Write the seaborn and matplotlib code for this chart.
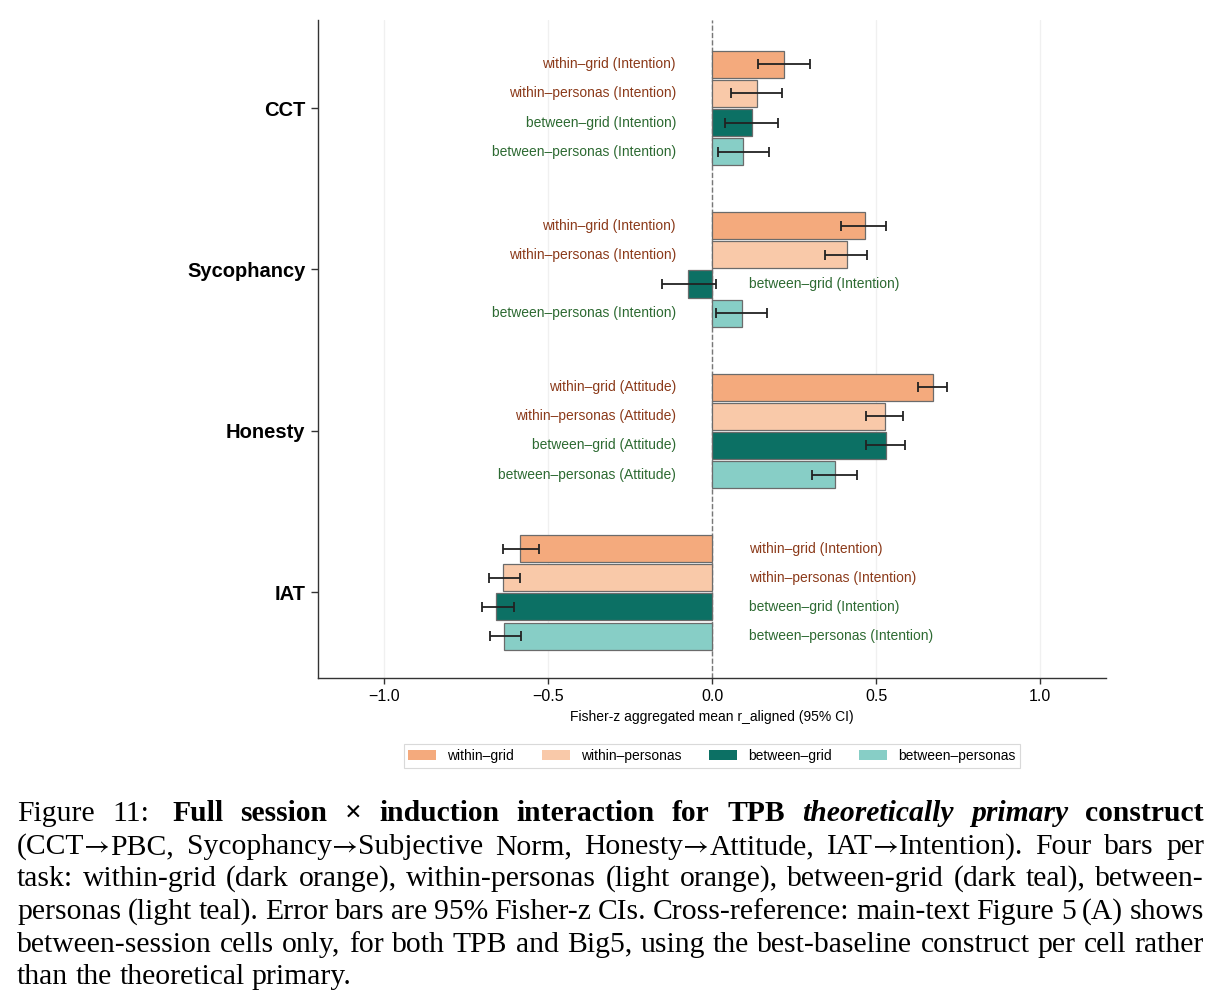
import numpy as np
import pandas as pd
import matplotlib
matplotlib.use("Agg")
import matplotlib.pyplot as plt
import matplotlib.transforms as mtransforms
from matplotlib.patches import Patch
import seaborn as sns

# ---------------- data ----------------
tasks = ["CCT", "Sycophancy", "Honesty", "IAT"]
conditions = ["within–grid", "within–personas", "between–grid", "between–personas"]
constructs = ["Intention", "Intention", "Attitude", "Intention"]

# mean r_aligned per task (order of `tasks`) for each condition
mean_within_grid = [0.219, 0.467, 0.672, -0.586]
mean_within_personas = [0.137, 0.411, 0.528, -0.636]
mean_between_grid = [0.121, -0.072, 0.531, -0.657]
mean_between_personas = [0.095, 0.090, 0.376, -0.632]

lo_within_grid = [0.140, 0.394, 0.626, -0.636]
lo_within_personas = [0.058, 0.344, 0.468, -0.680]
lo_between_grid = [0.040, -0.153, 0.468, -0.700]
lo_between_personas = [0.018, 0.012, 0.306, -0.675]

hi_within_grid = [0.298, 0.531, 0.717, -0.528]
hi_within_personas = [0.212, 0.473, 0.582, -0.586]
hi_between_grid = [0.200, 0.011, 0.588, -0.604]
hi_between_personas = [0.173, 0.166, 0.442, -0.581]

xticks = [-1.0, -0.5, 0.0, 0.5, 1.0]
xlabel = "Fisher-z aggregated mean r_aligned (95% CI)"

means = [mean_within_grid, mean_within_personas, mean_between_grid, mean_between_personas]
los = [lo_within_grid, lo_within_personas, lo_between_grid, lo_between_personas]
his = [hi_within_grid, hi_within_personas, hi_between_grid, hi_between_personas]

rows = []
for ti, t in enumerate(tasks):
    for ci, c in enumerate(conditions):
        rows.append({"task": t, "condition": c, "value": means[ci][ti],
                     "lo": los[ci][ti], "hi": his[ci][ti], "ti": ti, "ci": ci,
                     "construct": constructs[ti]})
df = pd.DataFrame(rows)

# ---------------- style ----------------
palette = ["#F4AA7D", "#F9C9A9", "#0C7064", "#87CEC6"]
text_colors = ["#8B3A1A", "#8B3A1A", "#2D6A32", "#2D6A32"]

sns.set_style("white")
plt.rcParams["font.family"] = ["Liberation Sans", "DejaVu Sans"]
plt.rcParams["text.color"] = "black"
plt.rcParams["axes.labelcolor"] = "black"
plt.rcParams["xtick.color"] = "black"
plt.rcParams["ytick.color"] = "black"

fig = plt.figure(figsize=(12.24, 10.07), dpi=100)
ax = fig.add_axes([318 / 1224, 1 - 678 / 1007, (1106 - 318) / 1224, (678 - 20) / 1007])

width = 0.72
sns.barplot(data=df, y="task", x="value", hue="condition", order=tasks,
            hue_order=conditions, orient="h", palette=palette, width=width,
            gap=0.07, saturation=1, edgecolor="#6b6b6b", linewidth=0.9,
            legend=False, errorbar=None, ax=ax, zorder=3)

step = width / len(conditions)
ypos = df["ti"].to_numpy() + (df["ci"].to_numpy() - 1.5) * step
vals = df["value"].to_numpy()
ax.errorbar(vals, ypos,
            xerr=[vals - df["lo"].to_numpy(), df["hi"].to_numpy() - vals],
            fmt="none", ecolor="#222222", elinewidth=1.3, capsize=3.5,
            capthick=1.3, zorder=4)

for (_, r), y in zip(df.iterrows(), ypos):
    label = f"{r['condition']} ({r['construct']})"
    if r["value"] >= 0:
        ax.text(-0.11, y, label, ha="right", va="center", fontsize=10,
                color=text_colors[r["ci"]])
    else:
        ax.text(0.112, y, label, ha="left", va="center", fontsize=10,
                color=text_colors[r["ci"]])

ax.axvline(0, color="#777777", linestyle="--", linewidth=1.0, zorder=2)
ax.set_xlim(-1.2, 1.2)
ax.set_ylim(3.53, -0.545)
ax.set_xticks(xticks)
ax.set_xticklabels(["\u22121.0", "\u22120.5", "0.0", "0.5", "1.0"])
ax.xaxis.grid(True, color="#f0f0f0", linewidth=1.0, zorder=0)
ax.yaxis.grid(False)
ax.set_axisbelow(True)
ax.set_ylabel("")
ax.set_xlabel(xlabel, fontsize=10, labelpad=4)
ax.tick_params(axis="x", labelsize=11.5, length=4, width=1, color="#333333",
               labelcolor="black", bottom=True, pad=4)
ax.tick_params(axis="y", length=5, width=1, color="#333333", labelcolor="black",
               left=True, pad=4)
for lab in ax.get_yticklabels():
    lab.set_fontsize(14.5)
    lab.set_fontweight("bold")
for s in ["top", "right"]:
    ax.spines[s].set_visible(False)
for s in ["left", "bottom"]:
    ax.spines[s].set_color("#333333")
    ax.spines[s].set_linewidth(1.0)

handles = [Patch(facecolor=p, edgecolor="none") for p in palette]
leg = fig.legend(handles, conditions, loc="center", ncol=4,
                 bbox_to_anchor=(712 / 1224, 1 - 756 / 1007), fontsize=10,
                 frameon=True, handlelength=2.0, handleheight=0.7,
                 handletextpad=0.8, columnspacing=2.0, borderpad=0.35,
                 fancybox=False)
leg.get_frame().set_edgecolor("#d0d0d0")
leg.get_frame().set_linewidth(0.8)
for t in leg.get_texts():
    t.set_color("black")

# ---------------- caption ----------------
SERIF = ["Liberation Serif", "DejaVu Serif"]
ARROWFONT = ["STIXGeneral", "DejaVu Serif"]
FS = 21.3
R, B, BI = ("normal", "normal"), ("bold", "normal"), ("bold", "italic")
ident = mtransforms.IdentityTransform()

caption_lines = [
    [("Figure", R), ("11:", R), ("Full", B), ("session", B), ("\u00d7", B),
     ("induction", B), ("interaction", B), ("for", B), ("TPB", B),
     ("theoretically", BI), ("primary", BI), ("construct", B)],
    [(w, R) for w in "(CCT\u2192PBC, Sycophancy\u2192Subjective Norm, Honesty\u2192Attitude, IAT\u2192Intention). Four bars per".split(" ")],
    [(w, R) for w in "task: within-grid (dark orange), within-personas (light orange), between-grid (dark teal), between-".split(" ")],
    [(w, R) for w in "personas (light teal). Error bars are 95% Fisher-z CIs. Cross-reference: main-text Figure 5 (A) shows".split(" ")],
    [(w, R) for w in "between-session cells only, for both TPB and Big5, using the best-baseline construct per cell rather".split(" ")],
    [(w, R) for w in "than the theoretical primary.".split(" ")],
]
baselines_top = [821, 854, 886, 919, 952, 984]

renderer = fig.canvas.get_renderer()


def make_word(word, wt, st, ypix):
    """Create text pieces for a word; arrows drawn in a font that has them."""
    parts = []
    segs = word.split("\u2192")
    for k, seg in enumerate(segs):
        if seg:
            parts.append(fig.text(0, ypix, seg, transform=ident, fontsize=FS,
                                  family=SERIF, fontweight=wt, fontstyle=st,
                                  va="baseline", ha="left", color="black"))
        if k < len(segs) - 1:
            parts.append(fig.text(0, ypix, "\u2192", transform=ident,
                                  fontsize=FS * 0.95, family=ARROWFONT,
                                  va="baseline", ha="left", color="black"))
    widths = [p.get_window_extent(renderer).width for p in parts]
    return parts, widths


x0, x1 = 17, 1204
for li, (words, ytop) in enumerate(zip(caption_lines, baselines_top)):
    ypix = 1007 - ytop
    items = [make_word(w, wt, st, ypix) for w, (wt, st) in words]
    wsum = [sum(ws) for _, ws in items]
    justify = li < len(caption_lines) - 1
    extra = [0.0] * (len(items) - 1)
    if justify:
        if li == 0:
            extra[1] = 6.0
        gap = (x1 - x0 - sum(wsum) - sum(extra)) / (len(items) - 1)
    else:
        gap = FS * 0.25 * 100 / 72
    x = x0
    for i, (parts, ws) in enumerate(items):
        xx = x
        for p, w in zip(parts, ws):
            p.set_position((xx, ypix))
            xx += w
        x += wsum[i] + gap + (extra[i] if i < len(extra) else 0)

fig.savefig("out.png", dpi=100)
